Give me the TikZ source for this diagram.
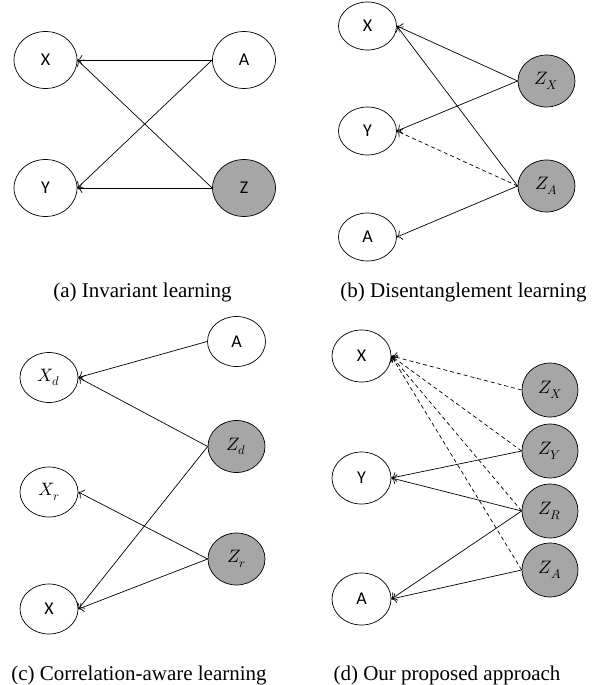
\documentclass[tikz,border=0pt]{standalone}
\usepackage{fontspec}
\usepackage{unicode-math}
\setmainfont{Liberation Serif}
\setmathfont{Latin Modern Math}
\newfontfamily\labelfont{Carlito}
\usepackage{tikz}
\usetikzlibrary{shapes.geometric}
\usetikzlibrary{arrows.meta}
\definecolor{latentgray}{RGB}{166,166,166}
\newcommand{\labelsize}{\labelfont\fontsize{18}{22}\selectfont}
\tikzset{
  var/.style={draw=black, ellipse, fill=white, line width=0.7pt, inner sep=0pt,
    minimum width=58pt, minimum height=50pt, font=\labelsize},
  latent/.style={var, fill=latentgray, minimum width=57pt, minimum height=52pt},
  link/.style={line width=0.7pt, -{To[length=5pt,width=10pt]}},
  hidden/.style={link, dash pattern=on 4pt off 3pt},
  caption/.style={anchor=base, font=\fontsize{21}{25}\selectfont}
}

\begin{document}
\begin{tikzpicture}[x=1pt,y=-1pt]
		\useasboundingbox (0,0) rectangle (594,685);

		%(a) invariant learning
		\node[var, minimum width=63pt, minimum height=57pt] (aX) at (45.5,60) {X};
		\node[var, minimum width=63pt, minimum height=57pt] (aA) at (244,60) {A};
		\node[var, minimum width=63pt, minimum height=57pt] (aY) at (45.5,188) {Y};
		\node[latent, minimum width=63pt, minimum height=57pt] (aZ) at (244,188) {Z};
		\draw[link] (aA.west) -- (aX.east);
		\draw[link] (aA.west) -- (aY.east);
		\draw[link] (aZ.west) -- (aX.east);
		\draw[link] (aZ.west) -- (aY.east);
		\node[caption] (acap) at (142.5,297) {(a) Invariant learning};

		%(b) disentanglement learning
		\node[var, minimum height=48pt] (bX) at (367.5,26) {X};
		\node[var, minimum height=48pt] (bY) at (367.5,131) {Y};
		\node[var, minimum height=48pt] (bA) at (367.5,237) {A};
		\node[latent] (bZx) at (546.5,81) {$Z_X$};
		\node[latent] (bZa) at (546.5,186) {$Z_A$};
		\draw[link] (bZx.west) -- (bX.east);
		\draw[link] (bZx.west) -- (bY.east);
		\draw[link] (bZa.west) -- (bX.east);
		\draw[hidden] (bZa.west) -- (bY.east);
		\draw[link] (bZa.west) -- (bA.east);
		\node[caption] (bcap) at (463.5,297) {(b) Disentanglement learning};

		%(c) correlation-aware learning
		\node[var] (cA) at (236.5,341.5) {A};
		\node[var] (cXd) at (49,377.5) {$X_d$};
		\node[latent] (cZd) at (236.5,446.5) {$Z_d$};
		\node[var] (cXr) at (49,492) {$X_r$};
		\node[latent] (cZr) at (236.5,559) {$Z_r$};
		\node[var] (cX) at (49,609) {X};
		\draw[link] (cA.west) -- (cXd.east);
		\draw[link] (cZd.west) -- (cXd.east);
		\draw[link] (cZd.west) -- (cX.east);
		\draw[link] (cZr.west) -- (cXr.east);
		\draw[link] (cZr.west) -- (cX.east);
		\node[caption] (ccap) at (139,680) {(c) Correlation-aware learning};

		%(d) our proposed approach
		\node[var, minimum width=59pt, minimum height=52pt] (dX) at (361.5,356) {X};
		\node[var, minimum width=59pt, minimum height=52pt] (dY) at (361.5,478) {Y};
		\node[var, minimum width=59pt, minimum height=52pt] (dA) at (361.5,599) {A};
		\node[latent, minimum width=56pt, minimum height=54pt] (dZx) at (550,390) {$Z_X$};
		\node[latent, minimum width=56pt, minimum height=54pt] (dZy) at (550,451) {$Z_Y$};
		\node[latent, minimum width=56pt, minimum height=54pt] (dZr) at (550,511) {$Z_R$};
		\node[latent, minimum width=56pt, minimum height=54pt] (dZa) at (550,570) {$Z_A$};
		\foreach \z in {dZx,dZy,dZr,dZa}
		\draw[hidden] (\z.west) -- (dX.east);
		\draw[link] (dZy.west) -- (dY.east);
		\draw[link] (dZr.west) -- (dY.east);
		\draw[link] (dZr.west) -- (dA.east);
		\draw[link] (dZa.west) -- (dA.east);
		\node[caption] (dcap) at (447,680) {(d) Our proposed approach};
\end{tikzpicture}
\end{document}
